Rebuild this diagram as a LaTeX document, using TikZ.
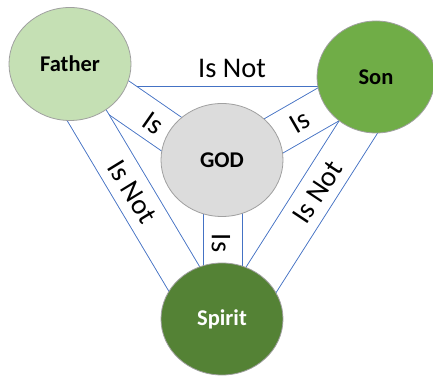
\documentclass[tikz,border=0pt]{standalone}
\usepackage{fontspec}
\setmainfont{Carlito}
\usetikzlibrary{shapes.geometric,backgrounds}

\definecolor{fathergreen}{HTML}{C5E0B4}
\definecolor{songreen}{HTML}{70AD47}
\definecolor{spiritgreen}{HTML}{548235}
\definecolor{godgray}{HTML}{DCDCDC}
\definecolor{ringgray}{HTML}{A0A0A0}
\definecolor{bandblue}{HTML}{4472C4}

\begin{document}
\begin{tikzpicture}[x=1pt,y=1pt,
  person/.style={ellipse,draw=ringgray,line width=0.8pt,minimum width=122pt,minimum height=113pt,font=\fontsize{22.5}{27}\selectfont\bfseries},
  band/.style={draw=bandblue,line width=0.9pt,double=white,double distance=38pt},
  word/.style={font=\fontsize{28.5}{34}\selectfont,inner sep=0pt}]

\useasboundingbox (0,0) rectangle (433,377);

\node[person,fill=fathergreen] (father) at (70,313) {Father};
\node[person,fill=songreen,minimum width=118pt,minimum height=112pt] (son) at (376,300) {Son};
\node[person,fill=godgray] (god) at (222,217) {GOD};
\node[person,fill=spiritgreen,text=white,minimum height=112pt] (spirit) at (222,58) {Spirit};

\begin{scope}[on background layer]
\draw[band] ([yshift=-3.5pt]father.center) -- ([yshift=9.5pt]son.center);
\draw[band] (father.center) -- ([yshift=-9pt]god.center);
\draw[band] (son.center) -- ([yshift=-5.6pt]god.center);
\draw[band] ([xshift=1pt]god.center) -- ([xshift=1pt]spirit.center);
\draw[band] ([shift={(-10,-6.5)}]father.center) -- ([shift={(-10,-6.5)}]spirit.center);
\draw[band] ([shift={(10,-6.5)}]son.center) -- ([shift={(10,-6.5)}]spirit.center);
\end{scope}

\node[word] (fs) at (232,309) {Is Not};
\node[word,rotate=-35] (fg) at (153,254) {Is};
\node[word,rotate=30] (sg) at (300,255) {Is};
\node[word,rotate=-90] (gp) at (221,134) {Is};
\node[word,rotate=-58.5] (fp) at (132,185) {Is Not};
\node[word,rotate=56.5] (sp) at (318,185) {Is Not};

\end{tikzpicture}
\end{document}
